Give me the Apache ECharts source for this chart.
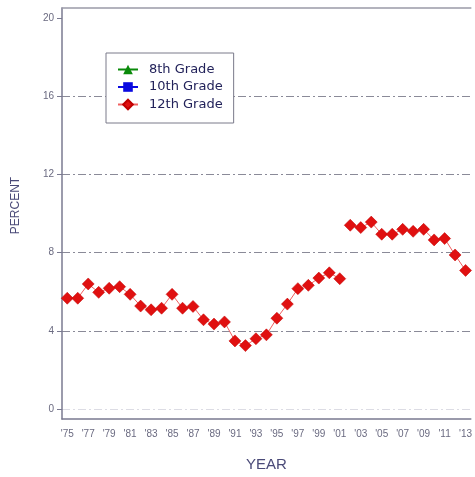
<!DOCTYPE html>
<html>
<head>
<meta charset="utf-8">
<script src="https://cdn.jsdelivr.net/npm/echarts@6/dist/echarts.min.js"></script>
<style>html,body{margin:0;padding:0;background:#fff}#c{width:475px;height:477px}</style>
</head>
<body>
<div id="c"></div>
<script>
// Years shown on the x axis
const years = [1975,1976,1977,1978,1979,1980,1981,1982,1983,1984,1985,1986,1987,1988,1989,1990,
  1991,1992,1993,1994,1995,1996,1997,1998,1999,2000,2001,2002,2003,2004,2005,2006,2007,2008,2009,
  2010,2011,2012,2013];
// 12th grade, first segment 1975–2001
const twelfthEarly = [5.67,5.67,6.4,5.97,6.18,6.26,5.87,5.27,5.08,5.16,5.87,5.16,5.25,4.57,4.35,4.46,
  3.49,3.25,3.6,3.8,4.65,5.37,6.16,6.33,6.7,6.97,6.67];
// 12th grade, second segment 2002–2013
const twelfthLate = [9.4,9.28,9.56,8.94,8.94,9.19,9.09,9.19,8.65,8.72,7.88,7.09];
const eighth = [];
const tenth = [];
const yTicks = [0,4,8,12,16,20];

const cats = years.map(y => "'" + String(y).slice(2));
const segA = twelfthEarly.concat(new Array(years.length - twelfthEarly.length).fill(null));
const segB = new Array(years.length - twelfthLate.length).fill(null).concat(twelfthLate);

const axisCol = '#7a7a90';
const labelCol = '#6a6a80';
const font = 'Liberation Sans, Arial, sans-serif';

const chart = echarts.init(document.getElementById('c'));
chart.setOption({
  animation: false,
  backgroundColor: '#fff',
  grid: {left: 62, right: -2, top: 8, bottom: 55},
  legend: {
    left: 106, top: 53,
    orient: 'vertical',
    data: ['8th Grade','10th Grade','12th Grade'],
    backgroundColor: '#fff',
    borderColor: '#7a7a8a',
    borderWidth: 1,
    padding: [10, 11, 12, 11],
    itemWidth: 20, itemHeight: 12, itemGap: 4.5,
    textStyle: {fontFamily: 'DejaVu Sans, sans-serif', fontSize: 13, color: '#22225a', padding: [0,0,0,6]}
  },
  xAxis: [{
    type: 'category',
    data: cats,
    boundaryGap: true,
    position: 'bottom',
    axisLine: {onZero: false, lineStyle: {color: axisCol, width: 1.5}},
    axisTick: {alignWithLabel: true, interval: 0, inside: true, length: 5, lineStyle: {color: axisCol}},
    axisLabel: {interval: 1, fontFamily: font, fontSize: 10, color: labelCol, margin: 10},
    name: 'YEAR', nameLocation: 'middle', nameGap: 38,
    nameTextStyle: {fontFamily: font, fontSize: 15, color: '#4a4a78'},
    splitLine: {show: false}
  }, {
    type: 'category',
    data: cats,
    position: 'top',
    axisLine: {show: true, onZero: false, lineStyle: {color: '#9a9aa8', width: 1.5}},
    axisTick: {show: false}, axisLabel: {show: false}, splitLine: {show: false}
  }],
  yAxis: {
    type: 'value',
    min: -0.5, max: 20.5,
    axisLine: {show: true, lineStyle: {color: axisCol, width: 1.5}},
    axisTick: {show: true, customValues: yTicks, length: 5, lineStyle: {color: axisCol}},
    axisLabel: {customValues: yTicks, fontFamily: font, fontSize: 10, color: labelCol, margin: 8},
    splitLine: {show: true, lineStyle: {color: ['#dcdce4','#8a8a98','#8a8a98','#8a8a98','#8a8a98','transparent'], type: [8,3,2,3], width: 1}},
    name: 'PERCENT', nameLocation: 'middle', nameGap: 40, nameRotate: 90,
    nameTextStyle: {fontFamily: font, fontSize: 12, color: '#4a4a78', padding: [0,0,0,16]}
  },
  series: [{
    name: '8th Grade', type: 'line', data: eighth,
    symbol: 'triangle', symbolSize: 11,
    itemStyle: {color: '#0a8a0a'}, lineStyle: {color: '#0a8a0a', width: 1}
  }, {
    name: '10th Grade', type: 'line', data: tenth,
    symbol: 'rect', symbolSize: 10,
    itemStyle: {color: '#0a0ae0'}, lineStyle: {color: '#0a0ae0', width: 1}
  }, {
    name: '12th Grade', type: 'line', data: segA, connectNulls: false, showAllSymbol: true,
    symbol: 'diamond', symbolSize: 12,
    itemStyle: {color: '#e01010', borderColor: '#c00000', borderWidth: 0.5},
    lineStyle: {color: '#f06060', width: 1}
  }, {
    name: '12th Grade', type: 'line', data: segB, connectNulls: false, showAllSymbol: true,
    symbol: 'diamond', symbolSize: 12,
    itemStyle: {color: '#e01010', borderColor: '#c00000', borderWidth: 0.5},
    lineStyle: {color: '#f06060', width: 1}
  }]
});
</script>
</body>
</html>
